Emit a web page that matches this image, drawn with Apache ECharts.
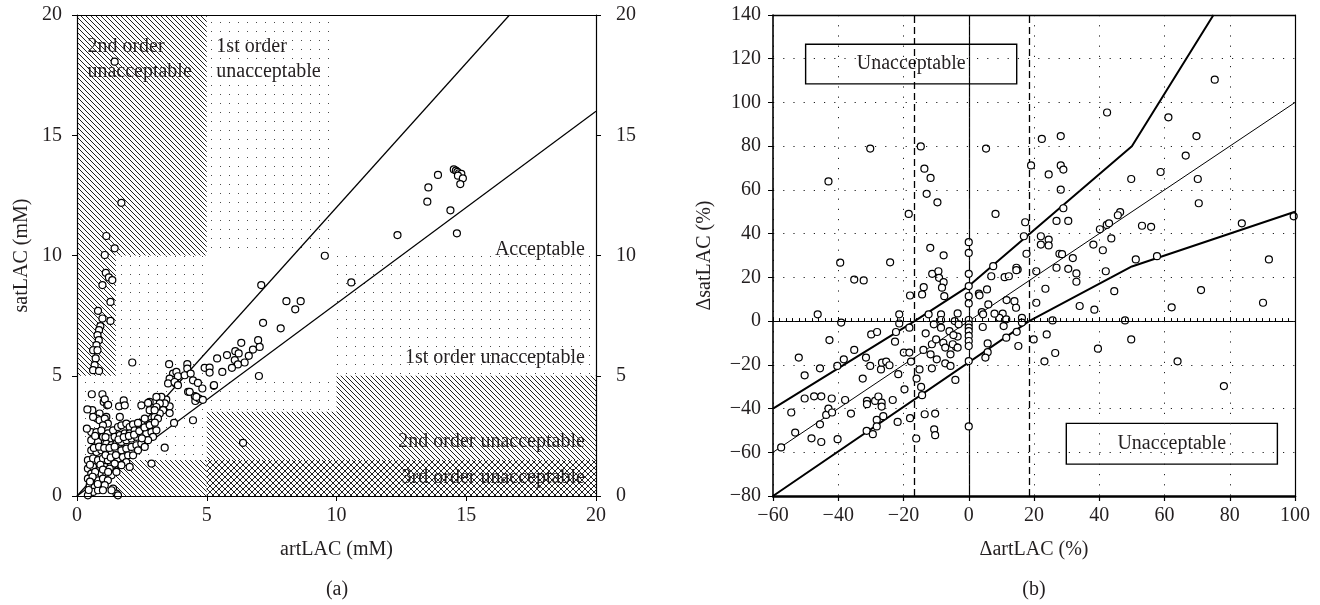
<!DOCTYPE html>
<html><head><meta charset="utf-8">
<script src="https://cdn.jsdelivr.net/npm/echarts@6/dist/echarts.min.js"></script>
<style>html,body{margin:0;padding:0;background:#fff}#c{width:1320px;height:605px}</style>
</head><body><div id="c"></div>
<script>
// ---------- Panel (a): artLAC vs satLAC (mM) ----------
const leftTicks = [0, 5, 10, 15, 20];
const leftPoints = [
 [1.45,18.06],[1.71,12.19],[1.13,10.81],[1.45,10.3],[1.07,10.02],[1.11,9.28],[1.23,9.09],[1.36,8.98],[0.98,8.77],[1.29,8.07],
 [1.29,7.28],[0.81,7.70],[0.98,7.38],[0.90,7.06],[0.85,6.90],[0.79,6.69],[0.84,6.48],[0.75,6.27],[0.72,6.06],[0.62,6.06],
 [0.79,6.06],[0.72,5.72],[0.68,5.44],[0.62,5.23],[0.85,5.20],
 [14.52,13.58],[14.60,13.53],[14.66,13.48],[14.72,13.42],[14.81,13.39],[14.68,13.32],[14.87,13.21],[14.77,12.97],[13.91,13.35],[13.54,12.83],
 [13.50,12.24],[14.39,11.88],[12.35,10.85],[14.64,10.92],[10.57,8.88],[9.55,9.99],[8.07,8.10],[8.62,8.10],[8.41,7.76],[7.17,7.20],
 [7.10,8.77],[7.85,6.97],[6.33,6.37],[6.98,6.48],[7.04,6.20],[6.78,6.09],[6.62,5.83],[6.46,5.55],[6.10,6.02],[6.23,5.93],
 [5.78,5.86],[6.08,5.65],[6.20,5.47],[5.97,5.33],[5.40,5.72],[5.60,5.16],[4.92,5.33],[5.11,5.34],[5.11,5.13],[5.27,4.58],
 [7.01,4.99],[6.40,2.21],[5.28,4.61],
 [2.13,5.55],[3.55,5.48],[4.25,5.48],[4.25,5.30],[4.28,4.33],[4.54,4.15],[4.56,3.95],[4.70,4.05],[4.47,3.15],[3.74,3.04],
 [3.38,2.01],[2.87,1.35],[3.70,5.09],[3.83,5.16],[3.76,4.84],[3.80,4.68],[3.89,4.98],[4.15,5.02],[4.38,5.09],[4.47,4.81],
 [4.66,4.70],[4.83,4.47],[3.57,4.88],[3.51,4.68],[3.57,3.73],[3.44,4.01],[3.25,4.12],[3.06,4.12],[3.38,3.85],[3.19,3.85],
 [3.06,3.70],[3.32,3.57],[3.57,3.45],[3.19,3.43],[2.99,3.29],[2.90,2.94],[2.80,3.57],[2.80,3.91],[2.48,3.77],[3.76,4.74],
 [3.89,4.61],[4.34,4.33],[4.60,4.12],[4.85,4.00],[2.74,3.87],[2.87,3.04],[2.70,2.90],[2.54,2.73],[2.42,2.87],[2.29,2.66],
 [2.48,3.04],[2.61,3.22],[3.12,3.22],[2.99,3.57],
 [0.57,4.23],[0.98,4.23],[1.03,3.91],[1.16,3.77],[1.07,4.02],[1.20,3.79],[1.62,3.73],[1.80,3.98],[1.84,3.77],[0.59,3.57],
 [0.87,3.43],[0.77,3.22],[0.98,3.08],[1.13,3.29],[1.65,3.29],[0.55,2.66],[0.75,2.66],[0.55,2.32],[0.81,2.25],[0.98,2.62],
 [0.62,3.29],[0.87,3.15],[1.07,3.22],[1.19,3.01],[1.00,2.94],[0.94,2.73],[1.00,2.46],[1.19,2.60],[1.39,2.73],[1.58,2.87],
 [1.71,2.94],[1.90,3.01],[2.03,2.87],[2.16,2.98],[2.35,3.04],
 [1.26,2.39],[1.45,2.46],[1.65,2.53],[1.84,2.60],[2.03,2.60],[2.22,2.73],[1.13,2.18],[1.33,2.11],[1.52,2.18],[1.71,2.25],
 [1.90,2.32],[2.10,2.39],[2.29,2.46],[2.48,2.53],[2.67,2.60],[2.87,2.66],[3.06,2.73],[2.93,2.46],[2.74,2.32],[0.55,1.90],
 [0.75,1.83],[0.94,1.90],[1.13,1.83],[1.33,1.83],[1.52,1.90],[1.71,1.90],[1.90,1.97],[2.10,2.04],[2.29,2.11],[2.48,2.18],
 [2.61,2.04],[2.35,1.90],[0.42,1.49],[0.62,1.56],[0.81,1.49],[1.00,1.56],[1.19,1.49],[1.39,1.56],[1.58,1.56],[1.77,1.62],
 [1.97,1.69],[2.16,1.69],[1.90,1.41],[2.03,1.21],[1.71,1.28],[1.45,1.35],[0.42,1.14],[0.62,1.21],[0.87,1.14],[1.07,1.21],
 [1.26,1.14],[0.55,0.93],[0.75,0.86],[0.94,0.93],[1.13,0.93],[1.33,0.86],[1.52,1.00],[0.42,0.72],[0.62,0.65],[0.81,0.65],
 [1.00,0.72],[1.19,0.65],[0.49,0.45],[0.68,0.37],[0.87,0.37],[1.07,0.45],[0.62,0.17],[0.81,0.24],[0.42,0.03],[1.00,0.24],
 [1.39,0.31],[1.52,0.10],[1.58,0.03],[1.33,0.24],
 [0.50,1.30],[0.70,1.00],[0.90,1.30],[1.10,1.70],[1.30,1.60],[1.50,1.70],[0.60,0.80],[0.80,0.50],[1.00,1.10],[1.20,1.00],
 [0.50,0.60],[0.45,0.25],[0.65,2.00],[0.85,2.05],[1.05,2.00],[1.25,2.00],[1.45,2.05],[1.60,2.35],[1.80,2.45],[2.00,2.50],
 [2.20,2.55],[2.40,2.70],[2.60,2.85],[2.80,2.95],[3.00,3.05],[1.10,2.45],[0.70,2.50],[2.50,2.40],[0.40,3.60],[0.38,2.80]
];
// error-grid zones: [art0, sat0, art1, sat1, kind]  kind 0 = 2nd order (hatch), 1 = 1st order (dots), 2 = 3rd order (cross)
const zones = [
 [0,10,5,20,0],[0,5,1.5,10,0],[1.5,0,5,1.5,0],[5,1.5,10,3.5,0],[10,1.5,20,5,0],
 [5,0,20,1.5,2],
 [5,10,10,20,1],[1.5,5,5,10,1],[0,1.5,5,5,1],[5,3.5,10,5,1],[10,5,20,10,1]
];
const limitUpper = [[0,0],[16.667,20]];   // satLAC = 1.2 * artLAC
const limitLower = [[0,0],[20,16]];       // satLAC = 0.8 * artLAC

// ---------- Panel (b): ΔartLAC vs ΔsatLAC (%) ----------
const rightXTicks = [-60,-40,-20,0,20,40,60,80,100];
const rightYTicks = [-80,-60,-40,-20,0,20,40,60,80,100,120,140];
const rightPoints = [
 [-46.3,3.1],[-39.1,-0.7],[-43.0,63.9],[-30.2,78.9],[-39.4,26.7],[-35.1,19.0],[-32.2,18.6],[-24.1,26.9],[-21.3,3.1],[-18.4,49.0],
 [-18.0,11.7],[-14.7,79.9],[-13.6,69.7],[-11.7,65.5],[-12.9,58.2],[-9.6,54.3],[-11.8,33.5],[-11.2,21.6],[-13.8,15.5],[-14.3,12.2],
 [-9.3,22.8],[-9.1,19.8],[-7.7,17.8],[-8.2,15.3],[-7.5,11.4],[-7.7,30.1],[0,36.1],[0,31.2],[0,21.6],[0,16.0],
 [0,11.4],[0,8.1],[5.3,78.9],[8.2,49.0],[7.5,25.1],[6.9,20.5],[3.1,12.6],[3.3,11.8],[5.6,14.5],[4.0,4.1],
 [4.4,3.1],[6.0,7.6],[11.0,20.1],[12.3,20.5],[11.6,9.6],[14.0,9.1],[14.5,6.1],[15.0,23.6],[-12.3,3.1],[-8.5,3.1],
 [-3.4,3.5],[-8.5,0.5],[-10.7,-1.5],[-4.3,0],[-3.1,-1.5],[0,0.5],[0,-1.5],[10.4,3.4],[9.4,1.5],[10.7,-2.3],
 [75.4,110.4],[42.4,95.4],[61.2,93.2],[69.8,84.6],[28.2,84.6],[22.4,83.3],[66.5,75.7],[19.1,71.2],[28.2,71.2],[29.0,69.3],
 [24.5,67.1],[58.8,68.2],[49.8,65.0],[70.2,65.0],[28.2,60.1],[70.5,53.9],[29.0,51.6],[17.3,45.2],[26.9,45.8],[30.5,45.8],
 [46.4,49.8],[45.7,48.4],[16.9,38.8],[22.1,38.8],[24.5,37.3],[22.1,35.0],[24.5,34.6],[40.2,42.0],[42.3,44.0],[43.0,44.7],
 [53.1,43.6],[55.9,43.1],[83.7,44.7],[99.6,47.9],[43.7,37.8],[38.2,35.0],[41.1,32.4],[17.7,30.8],[27.8,30.8],[28.6,30.6],
 [31.9,28.8],[51.2,28.2],[57.7,29.7],[92.0,28.2],[14.6,24.4],[14.6,23.3],[20.7,22.8],[26.9,24.4],[30.5,23.9],[33.0,21.8],
 [33.0,18.0],[42.0,22.8],[23.5,14.8],[44.6,13.7],[71.2,14.2],[20.7,8.4],[34.0,6.9],[38.5,5.2],[62.2,6.3],[90.2,8.4],
 [16.3,1.5],[16.3,-0.7],[25.7,0.3],[47.9,0.3],
 [11.5,0.8],[11.5,-7.6],[14.7,-4.9],[15.2,-11.4],[19.9,-8.4],[23.9,-6.1],[23.2,-18.4],[26.5,-14.6],[39.6,-12.6],[49.8,-8.4],
 [64.0,-18.4],[78.2,-29.7],
 [-52.1,-16.7],[-50.3,-24.8],[-50.3,-35.4],[-47.4,-34.4],[-45.2,-34.4],[-42.0,-35.4],[-37.9,-36.1],[-45.6,-21.6],[-42.7,-8.7],[-40.3,-20.5],
 [-38.3,-17.5],[-35.1,-13.2],[-54.4,-41.8],[-53.2,-51.0],[-57.5,-57.8],[-48.2,-53.6],[-45.2,-55.3],[-45.6,-47.2],[-43.7,-42.9],[-43.0,-40.0],
 [-41.9,-41.8],[-36.1,-42.3],[-40.2,-54.0],[-31.5,-16.7],[-30.2,-20.5],[-29.9,-6.1],[-28.1,-5.0],[-32.5,-26.3],[-31.2,-36.5],[-31.2,-38.0],
 [-28.7,-36.5],[-27.7,-34.5],[-26.7,-37.3],[-26.7,-39.1],[-26.9,-22.1],[-26.6,-19.0],[-25.3,-18.5],[-24.3,-20.2],[-28.2,-45.2],[-28.2,-48.2],
 [-31.3,-50.2],[-29.4,-51.7],[-26.2,-43.5],[-23.3,-36.1],[-21.8,-46.1],[-22.6,-9.4],[-22.3,-5.0],[-21.3,-1.1],[-18.2,-3.0],[-21.6,-24.3],
 [-19.9,-14.4],[-19.7,-31.2],[-18.2,-14.4],[-17.7,-18.5],[-18.0,-44.4],[-16.0,-26.3],[-15.1,-22.1],[-14.6,-30.1],[-14.3,-33.9],[-16.1,-53.7],
 [-13.5,-42.6],[-13.9,-13.2],[-13.2,-5.6],[-11.3,-10.6],[-11.7,-15.2],[-11.3,-21.6],[-9.8,-17.5],[-10.3,-42.3],[-10.6,-49.5],[-10.3,-52.2],
 [-8.5,-3.0],[-7.8,-9.9],[-7.2,-12.1],[-7.2,-19.3],[-5.9,-4.6],[-5.6,-15.2],[-5.6,-20.5],[-3.4,-7.1],[-3.9,-11.9],[-4.1,-26.9],
 [0,-3.0],[0,-4.6],[0,-6.8],[0,-9.1],[0,-11.4],[0,-18.3],[0,-48.2],
 [-10.0,-8.4],[-4.7,-6.4],[-4.9,-10.6],[-3.4,-12.1],[4.3,-2.7],[7.9,3.4],[5.8,-10.2],[5.8,-14.2],[5.1,-16.7]
];
const upperBound = [[-60,-40],[-16.6,0],[0,16],[50,80],[75,140]];
const lowerBound = [[-60,-80],[18.5,0],[50,25],[100,50]];
const identityLine = [[-60,-60],[100,100]];
const dashedX = [-16.6, 18.5];
const boxes = [[-50,126.6,14.7,108.5],[29.9,-46.8,94.6,-65.4]];

// ---------- annotation texts for panel (a) ----------
const zoneLabels = [
 {t:'2nd order', x:0.4, y:18.67, a:'left'},
 {t:'unacceptable', x:0.4, y:17.63, a:'left'},
 {t:'1st order', x:5.37, y:18.67, a:'left'},
 {t:'unacceptable', x:5.37, y:17.63, a:'left'},
 {t:'Acceptable', x:19.57, y:10.22, a:'right'},
 {t:'1st order unacceptable', x:19.57, y:5.73, a:'right'},
 {t:'2nd order unacceptable', x:19.57, y:2.25, a:'right'},
 {t:'3rd order unacceptable', x:19.57, y:0.74, a:'right'}
];

const FONT = 'Liberation Serif';
const TXT = '#231f20';

function makePattern(kind){
  const c = document.createElement('canvas');
  const s = kind === 1 ? 9 : (kind === 2 ? 6 : 5);
  c.width = s; c.height = s;
  const g = c.getContext('2d');
  if (kind === 1) { g.fillStyle = '#4a4a4a'; g.fillRect(4,4,1,1); }
  else {
    g.fillStyle = '#222';
    for (let i = 0; i < s; i++) g.fillRect(i, i, 1, 1);
    if (kind === 2) for (let i = 0; i < s; i++) g.fillRect(s-1-i, i, 1, 1);
  }
  return {image: c, repeat: 'repeat'};
}
const patterns = [makePattern(0), makePattern(1), makePattern(2)];

const minus = v => String(v).replace('-', '\u2212');
const labelStyle = {fontFamily: FONT, fontSize: 20, color: TXT};
const nameStyle = {fontFamily: FONT, fontSize: 20, color: TXT};
const axLine = w => ({show: true, onZero: false, lineStyle: {color: '#000', width: w}});

const chart = echarts.init(document.getElementById('c'), null, {renderer: 'canvas'});
chart.setOption({
  backgroundColor: '#fff',
  animation: false,
  grid: [
    {left: 77, top: 15, width: 519, height: 481, containLabel: false},
    {left: 773, top: 15, width: 522, height: 481, containLabel: false}
  ],
  xAxis: [
    {gridIndex: 0, type: 'value', position: 'bottom', min: leftTicks[0], max: leftTicks[leftTicks.length-1], interval: 5, z: 10,
     axisLine: axLine(1.2), axisTick: {show: true, inside: false, length: 5, lineStyle: {color: '#000'}},
     axisLabel: Object.assign({margin: 10}, labelStyle), splitLine: {show: false},
     name: 'artLAC (mM)', nameLocation: 'middle', nameGap: 44, nameTextStyle: nameStyle},
    {gridIndex: 0, type: 'value', position: 'top', min: 0, max: 20, z: 10,
     axisLine: axLine(1.2), axisTick: {show: false}, axisLabel: {show: false}, splitLine: {show: false}},
    {gridIndex: 1, type: 'value', position: 'bottom', min: rightXTicks[0], max: rightXTicks[rightXTicks.length-1], interval: 20, z: 10,
     axisLine: axLine(2.5), axisTick: {show: true, inside: false, length: 5, lineStyle: {color: '#000', width: 1.2}},
     axisLabel: Object.assign({margin: 10, formatter: minus}, labelStyle),
     splitLine: {show: true, lineStyle: {color: '#222', width: 1, type: [1.2, 9]}},
     name: '\u0394artLAC (%)', nameLocation: 'middle', nameGap: 44, nameTextStyle: nameStyle},
    {gridIndex: 1, type: 'value', position: 'top', min: -60, max: 100, z: 10,
     axisLine: axLine(1.3), axisTick: {show: false}, axisLabel: {show: false}, splitLine: {show: false}},
    {gridIndex: 1, type: 'value', position: 'bottom', min: -60, max: 100, interval: 20, z: 9,
     axisLine: {show: true, onZero: true, lineStyle: {color: '#000', width: 1}},
     axisTick: {show: true, inside: true, length: 4, lineStyle: {color: '#000'}},
     minorTick: {show: true, splitNumber: 10, length: 3, lineStyle: {color: '#000'}},
     axisLabel: {show: false}, splitLine: {show: false}}
  ],
  yAxis: [
    {gridIndex: 0, type: 'value', position: 'left', min: 0, max: 20, interval: 5, z: 10,
     axisLine: axLine(1.2), axisTick: {show: true, inside: false, length: 5, lineStyle: {color: '#000'}},
     axisLabel: Object.assign({margin: 15}, labelStyle), splitLine: {show: false},
     name: 'satLAC (mM)', nameLocation: 'middle', nameGap: 45, nameRotate: 90, nameTextStyle: nameStyle},
    {gridIndex: 0, type: 'value', position: 'right', min: 0, max: 20, interval: 5, z: 10,
     axisLine: axLine(1.2), axisTick: {show: true, inside: false, length: 5, lineStyle: {color: '#000'}},
     axisLabel: Object.assign({margin: 20}, labelStyle), splitLine: {show: false}},
    {gridIndex: 1, type: 'value', position: 'left', min: rightYTicks[0], max: rightYTicks[rightYTicks.length-1], interval: 20, z: 10,
     axisLine: axLine(1.6), axisTick: {show: true, inside: false, length: 5, lineStyle: {color: '#000'}},
     axisLabel: Object.assign({margin: 12, formatter: minus}, labelStyle),
     splitLine: {show: true, lineStyle: {color: '#222', width: 1, type: [1.2, 9]}},
     name: '\u0394satLAC (%)', nameLocation: 'middle', nameGap: 58, nameRotate: 90, nameTextStyle: nameStyle},
    {gridIndex: 1, type: 'value', position: 'right', min: -80, max: 140, z: 10,
     axisLine: axLine(1.2), axisTick: {show: false}, axisLabel: {show: false}, splitLine: {show: false}}
  ],
  graphic: [
    {type: 'text', x: 337, y: 590, style: {text: '(a)', font: '20px "Liberation Serif"', fill: TXT, textAlign: 'center', textVerticalAlign: 'middle', align: 'center', verticalAlign: 'middle'}},
    {type: 'text', x: 1034, y: 590, style: {text: '(b)', font: '20px "Liberation Serif"', fill: TXT, textAlign: 'center', textVerticalAlign: 'middle', align: 'center', verticalAlign: 'middle'}}
  ],
  series: [
    {type: 'custom', xAxisIndex: 0, yAxisIndex: 0, z: 1, silent: true, clip: true,
     data: zones,
     renderItem: (params, api) => {
       const p0 = api.coord([api.value(0), api.value(3)]);
       const p1 = api.coord([api.value(2), api.value(1)]);
       return {type: 'rect', shape: {x: p0[0], y: p0[1], width: p1[0]-p0[0], height: p1[1]-p0[1]},
               style: {fill: patterns[api.value(4)], stroke: null}};
     }},
    {type: 'custom', xAxisIndex: 0, yAxisIndex: 0, z: 2, silent: true,
     data: zoneLabels.map(d => [d.x, d.y]),
     renderItem: (params, api) => {
       const d = zoneLabels[params.dataIndex];
       const p = api.coord([api.value(0), api.value(1)]);
       return {type: 'text', x: p[0], y: p[1],
               style: {text: d.t, font: '20px "Liberation Serif"', fill: TXT,
                       textAlign: d.a, textVerticalAlign: 'middle', align: d.a, verticalAlign: 'middle'}};
     }},
    {type: 'line', xAxisIndex: 0, yAxisIndex: 0, z: 3, data: limitUpper, symbol: 'none', silent: true,
     lineStyle: {color: '#000', width: 1.2}},
    {type: 'line', xAxisIndex: 0, yAxisIndex: 0, z: 3, data: limitLower, symbol: 'none', silent: true,
     lineStyle: {color: '#000', width: 1.2}},
    {type: 'scatter', xAxisIndex: 0, yAxisIndex: 0, z: 5, data: leftPoints, symbol: 'circle', symbolSize: 7,
     itemStyle: {color: '#fff', borderColor: '#000', borderWidth: 1.2, opacity: 1}},

    {type: 'line', xAxisIndex: 2, yAxisIndex: 2, z: 3, data: [], silent: true,
     markLine: {silent: true, symbol: ['none','none'], label: {show: false},
       data: [{xAxis: 0, lineStyle: {color: '#000', width: 1.2, type: 'solid'}}]
         .concat(dashedX.map(v => ({xAxis: v, lineStyle: {color: '#000', width: 1.3, type: [7, 4]}})))}},
    {type: 'line', xAxisIndex: 2, yAxisIndex: 2, z: 4, data: [], silent: true,
     markArea: {silent: true, itemStyle: {color: '#fff', borderColor: '#000', borderWidth: 1.4},
       label: {show: true, position: 'inside', formatter: 'Unacceptable', fontFamily: FONT, fontSize: 20, color: TXT},
       data: boxes.map(b => [{coord: [b[0], b[1]]}, {coord: [b[2], b[3]]}])}},
    {type: 'line', xAxisIndex: 2, yAxisIndex: 2, z: 5, data: identityLine, symbol: 'none', silent: true,
     lineStyle: {color: '#000', width: 1}},
    {type: 'line', xAxisIndex: 2, yAxisIndex: 2, z: 5, data: upperBound, symbol: 'none', silent: true, clip: true,
     lineStyle: {color: '#000', width: 2}},
    {type: 'line', xAxisIndex: 2, yAxisIndex: 2, z: 5, data: lowerBound, symbol: 'none', silent: true,
     lineStyle: {color: '#000', width: 2}},
    {type: 'scatter', xAxisIndex: 2, yAxisIndex: 2, z: 6, data: rightPoints, symbol: 'circle', symbolSize: 7,
     itemStyle: {color: '#fff', borderColor: '#000', borderWidth: 1.2, opacity: 1}}
  ]
});
</script></body></html>
